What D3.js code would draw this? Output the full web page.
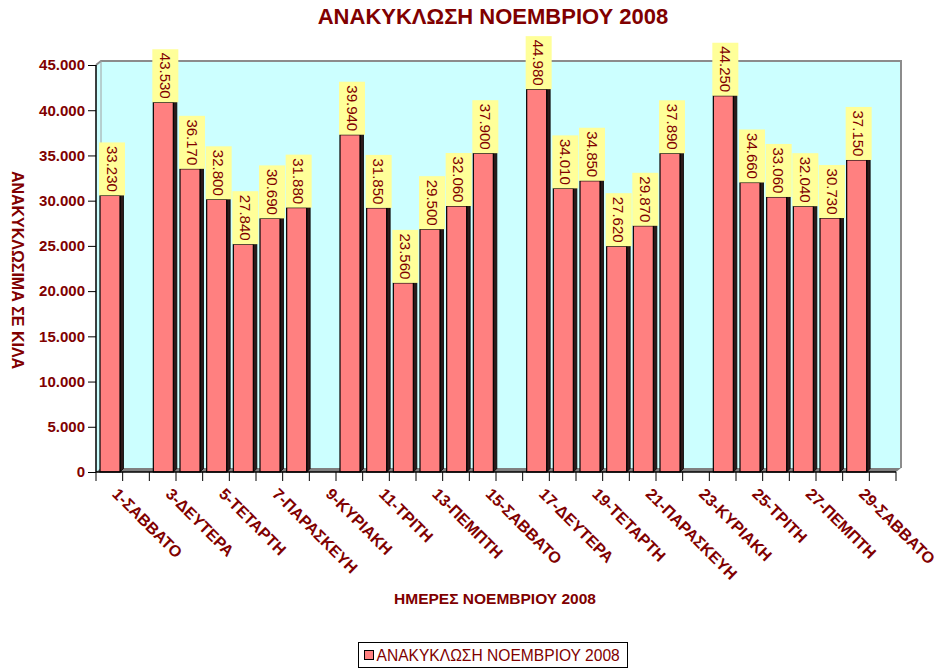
<!DOCTYPE html>
<html>
<head>
<meta charset="utf-8">
<script src="https://cdn.jsdelivr.net/npm/d3@7"></script>
<style>
	body { margin: 0; background: #fff; }
	text { font-family: 'Liberation Sans', Arial, sans-serif; }
</style>
</head>
<body>
<svg id="svg" width="940" height="670"></svg>
<script>
// days of november 2008 (sundays have no collection)
const days = ['1-ΣΑΒΒΑΤΟ', '2-ΚΥΡΙΑΚΗ', '3-ΔΕΥΤΕΡΑ', '4-ΤΡΙΤΗ', '5-ΤΕΤΑΡΤΗ', '6-ΠΕΜΠΤΗ', '7-ΠΑΡΑΣΚΕΥΗ',
	'8-ΣΑΒΒΑΤΟ', '9-ΚΥΡΙΑΚΗ', '10-ΔΕΥΤΕΡΑ', '11-ΤΡΙΤΗ', '12-ΤΕΤΑΡΤΗ', '13-ΠΕΜΠΤΗ', '14-ΠΑΡΑΣΚΕΥΗ',
	'15-ΣΑΒΒΑΤΟ', '16-ΚΥΡΙΑΚΗ', '17-ΔΕΥΤΕΡΑ', '18-ΤΡΙΤΗ', '19-ΤΕΤΑΡΤΗ', '20-ΠΕΜΠΤΗ', '21-ΠΑΡΑΣΚΕΥΗ',
	'22-ΣΑΒΒΑΤΟ', '23-ΚΥΡΙΑΚΗ', '24-ΔΕΥΤΕΡΑ', '25-ΤΡΙΤΗ', '26-ΤΕΤΑΡΤΗ', '27-ΠΕΜΠΤΗ', '28-ΠΑΡΑΣΚΕΥΗ',
	'29-ΣΑΒΒΑΤΟ', '30-ΚΥΡΙΑΚΗ'];
// kilos recycled per day, null = no bar
const kilos = [33230, null, 43530, 36170, 32800, 27840, 30690, 31880, null, 39940, 31850, 23560,
	29500, 32060, 37900, null, 44980, 34010, 34850, 27620, 29870, 37890, null, 44250, 34660,
	33060, 32040, 30730, 37150, null];
const yTicks = [0, 5000, 10000, 15000, 20000, 25000, 30000, 35000, 40000, 45000];

const seriesName = 'ΑΝΑΚΥΚΛΩΣΗ ΝΟΕΜΒΡΙΟΥ 2008';
const chartTitle = 'ΑΝΑΚΥΚΛΩΣΗ ΝΟΕΜΒΡΙΟΥ 2008';
const xTitle = 'ΗΜΕΡΕΣ ΝΟΕΜΒΡΙΟΥ 2008';
const yTitle = 'ΑΝΑΚΥΚΛΩΣΙΜΑ ΣΕ ΚΙΛΑ';

const DARK_RED = '#800000';
const depth = 5; // 3d offset of the back wall

const locale = d3.formatLocale({ decimal: ',', thousands: '.', grouping: [3], currency: ['€', ''] });
const fmt = locale.format(',');

const svg = d3.select('#svg');
const margin = { top: 65, left: 96, right: 44, bottom: 198 };
const width = 940 - margin.left - margin.right;  // 800
const height = 670 - margin.top - margin.bottom; // 407

const x = d3.scaleBand().domain(days).range([0, width]);
const y = d3.scaleLinear().domain([0, 45000]).range([height, 0]);
// the 3d projection draws the front face of the columns lower than the wall scale
const yBar = d3.scaleLinear().domain([2650, 47650]).range([height, 0]);

const g = svg.append('g').attr('transform', `translate(${margin.left}, ${margin.top})`);

// back wall + side wall
g.append('path')
	.attr('d', `M0,0 L${depth},${-depth + 1} L${width + depth},${-depth + 1} L${width + depth},${height - depth + 1} L${width},${height} L0,${height} Z`)
	.style('fill', '#ccffff');
g.append('path')
	.attr('d', `M0,0 L${depth},${-depth + 1} L${width + depth},${-depth + 1} L${width + depth},${height - depth + 1}`)
	.style('fill', 'none').style('stroke', '#8c8c8c').style('stroke-width', 2);
g.append('line')
	.attr('x1', depth).attr('x2', depth).attr('y1', -depth + 1).attr('y2', height - depth + 1)
	.style('stroke', '#a0a0a0');

// floor
g.append('path')
	.attr('d', `M0,${height} L${depth},${height - depth + 1} L${width + depth},${height - depth + 1} L${width},${height} Z`)
	.style('fill', '#808080');

// bars
const data = days.map((d, i) => ({ day: d, value: kilos[i] })).filter(d => d.value != null);
const barOffset = 4, barWidth = 20, side = 3.5;

const bar = g.selectAll('.bar')
	.data(data)
	.enter().append('g')
	.attr('class', 'bar');

bar.append('path')
	.attr('d', d => {
		const x0 = x(d.day) + barOffset + barWidth, top = yBar(d.value);
		return `M${x0},${top} L${x0 + side},${top - side} L${x0 + side},${height - side} L${x0},${height} Z`;
	})
	.style('fill', '#2b1a1a').style('stroke', '#000').style('stroke-width', 0.8);

bar.append('rect')
	.attr('x', d => x(d.day) + barOffset)
	.attr('y', d => yBar(d.value))
	.attr('width', barWidth)
	.attr('height', d => height - yBar(d.value))
	.style('fill', '#ff8080').style('stroke', '#000').style('stroke-width', 1.2);

// data labels (yellow boxes, vertical text)
const boxH = 53;
bar.append('rect')
	.attr('x', d => x(d.day) + barOffset - 1)
	.attr('y', d => yBar(d.value) - boxH)
	.attr('width', 26)
	.attr('height', boxH)
	.style('fill', '#ffff99');

bar.append('text')
	.attr('transform', d => `translate(${x(d.day) + barOffset + 6.5}, ${yBar(d.value) - boxH / 2}) rotate(90)`)
	.attr('text-anchor', 'middle')
	.style('font-size', '15px')
	.style('fill', DARK_RED)
	.text(d => fmt(d.value));

// y axis
const yAxis = g.append('g')
	.call(d3.axisLeft(y).tickValues(yTicks).tickFormat(fmt).tickSize(8).tickPadding(3));
yAxis.select('.domain').style('stroke', '#000').style('stroke-width', 1.5).attr('d', `M0,0V${height}`);
yAxis.selectAll('.tick line').style('stroke', '#000');
yAxis.selectAll('text')
	.style('font-size', '15px').style('font-weight', 'bold').style('fill', DARK_RED)
	.style('font-family', "'Liberation Sans', Arial, sans-serif");

// x axis: ticks on category boundaries, labels on odd days
const xAxis = g.append('g').attr('transform', `translate(0, ${height})`);
xAxis.append('line').attr('x1', 0).attr('x2', width).style('stroke', '#000').style('stroke-width', 1.5);
xAxis.selectAll('.tk')
	.data(days.concat(['end']))
	.enter().append('line')
	.attr('x1', (d, i) => i * x.bandwidth()).attr('x2', (d, i) => i * x.bandwidth())
	.attr('y1', 0).attr('y2', 9)
	.style('stroke', '#000');
xAxis.selectAll('.lbl')
	.data(days.filter((d, i) => i % 2 == 0))
	.enter().append('text')
	.attr('transform', d => `translate(${x(d) + x.bandwidth() / 2 + 2}, 23) rotate(45)`)
	.style('font-size', '16px').style('font-weight', 'bold').style('fill', DARK_RED)
	.text(d => d);

// titles
svg.append('text')
	.attr('x', 493).attr('y', 24)
	.attr('text-anchor', 'middle')
	.style('font-size', '22px').style('font-weight', 'bold').style('fill', DARK_RED)
	.text(chartTitle);

svg.append('text')
	.attr('x', 495).attr('y', 604)
	.attr('text-anchor', 'middle')
	.style('font-size', '15.5px').style('font-weight', 'bold').style('fill', DARK_RED)
	.text(xTitle);

svg.append('text')
	.attr('transform', 'translate(12, 270) rotate(90)')
	.attr('text-anchor', 'middle')
	.style('font-size', '16px').style('font-weight', 'bold').style('fill', DARK_RED)
	.text(yTitle);

// legend
const legend = svg.append('g').attr('transform', 'translate(358.5, 642.5)');
legend.append('rect').attr('width', 269).attr('height', 25)
	.style('fill', '#fff').style('stroke', '#000');
legend.append('rect').attr('x', 6).attr('y', 8).attr('width', 9).attr('height', 9)
	.style('fill', '#ff8080').style('stroke', '#000');
legend.append('text').attr('x', 18).attr('y', 18.5)
	.style('font-size', '15.6px').style('fill', DARK_RED)
	.text(seriesName);
</script>
</body>
</html>
